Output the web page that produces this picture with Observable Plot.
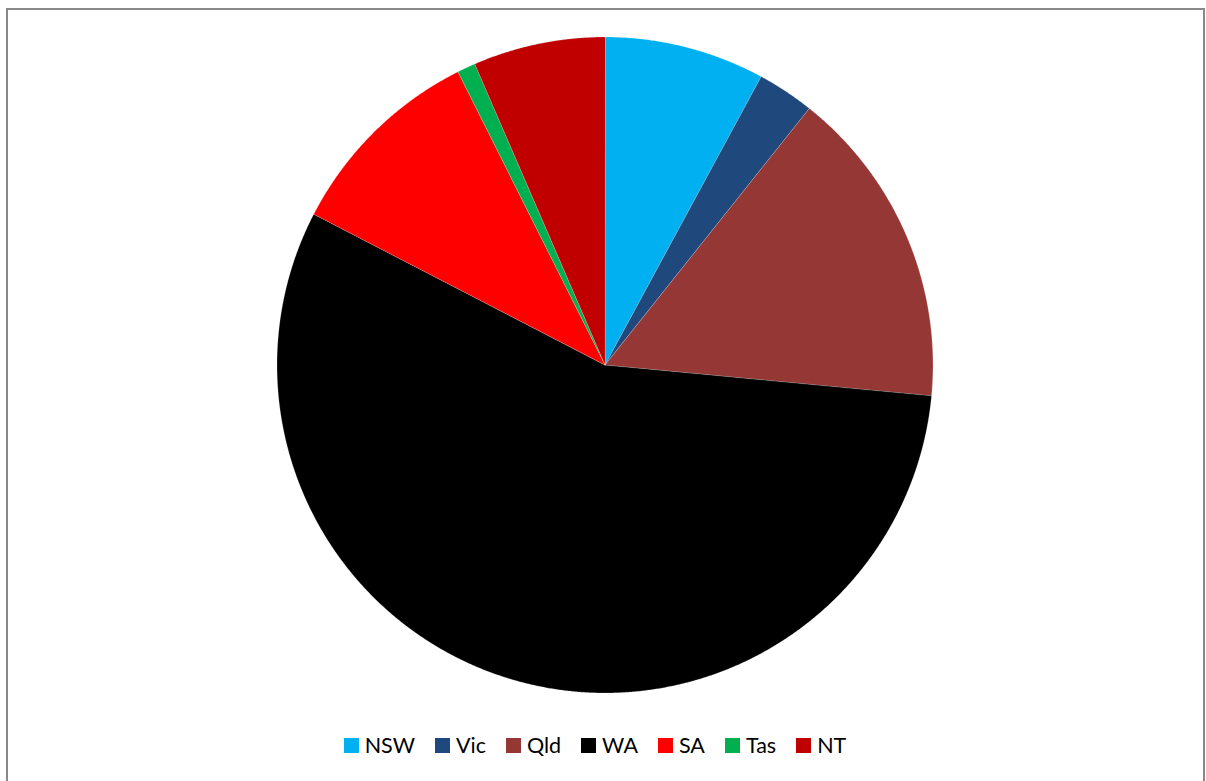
<!DOCTYPE html>
<html>
<head>
<meta charset="utf-8">
<script src="https://cdn.jsdelivr.net/npm/d3@7"></script>
<script src="https://cdn.jsdelivr.net/npm/@observablehq/plot@0.6"></script>
<style>
  html, body { margin: 0; padding: 0; background: #fff; }
  #frame { position: absolute; left: 6px; top: 8px; width: 1195px; height: 790px; border: 2px solid #898989; box-sizing: content-box; }
  #chart { position: absolute; left: 0; top: 0; }
  #legend { position: absolute; left: 0; width: 1190px; top: 733px; display: flex; justify-content: center; gap: 20px;
    font-family: Lato, "Open Sans", sans-serif; font-size: 21.5px; color: #000; line-height: 25px; }
  .item { display: flex; align-items: center; gap: 6px; }
  .sw { width: 15px; height: 15px; display: inline-block; }
</style>
</head>
<body>
<div id="frame"></div>
<div id="chart"></div>
<div id="legend"></div>
<script>
const states = ["NSW", "Vic", "Qld", "WA", "SA", "Tas", "NT"];
const shares = [7.9, 2.8, 15.8, 56.1, 10.0, 0.9, 6.5];
const colors = ["#00B0F0", "#1F497D", "#953735", "#000000", "#FF0000", "#00B050", "#C00000"];

const data = states.map((s, i) => ({state: s, value: shares[i]}));
const arcs = d3.pie().sort(null).value(d => d.value).startAngle(0).endAngle(2 * Math.PI)(data);

// Build planar polygons (unit circle, y downward) for each slice
const step = Math.PI / 720;
const features = arcs.map(a => {
  const ring = [[0, 0]];
  const n = Math.max(2, Math.ceil((a.endAngle - a.startAngle) / step));
  for (let k = 0; k <= n; k++) {
    const t = a.startAngle + (a.endAngle - a.startAngle) * k / n;
    ring.push([Math.sin(t), -Math.cos(t)]);
  }
  ring.push([0, 0]);
  return {type: "Feature", properties: {state: a.data.state}, geometry: {type: "Polygon", coordinates: [ring]}};
});
const collection = {type: "FeatureCollection", features};

const chart = Plot.plot({
  width: 1206,
  height: 729,
  marginTop: 36.5,
  marginBottom: 36.5,
  marginLeft: 3,
  marginRight: 0,
  projection: {type: "identity", domain: collection},
  color: {domain: states, range: colors},
  marks: [
    Plot.geo(features, {fill: d => d.properties.state, stroke: "#ffffff", strokeWidth: 0.4, strokeOpacity: 0.5})
  ]
});
document.getElementById("chart").appendChild(chart);

const legend = document.getElementById("legend");
states.forEach((s, i) => {
  const item = document.createElement("div");
  item.className = "item";
  const sw = document.createElement("span");
  sw.className = "sw";
  sw.style.background = colors[i];
  const label = document.createElement("span");
  label.textContent = s;
  item.appendChild(sw);
  item.appendChild(label);
  legend.appendChild(item);
});
</script>
</body>
</html>
